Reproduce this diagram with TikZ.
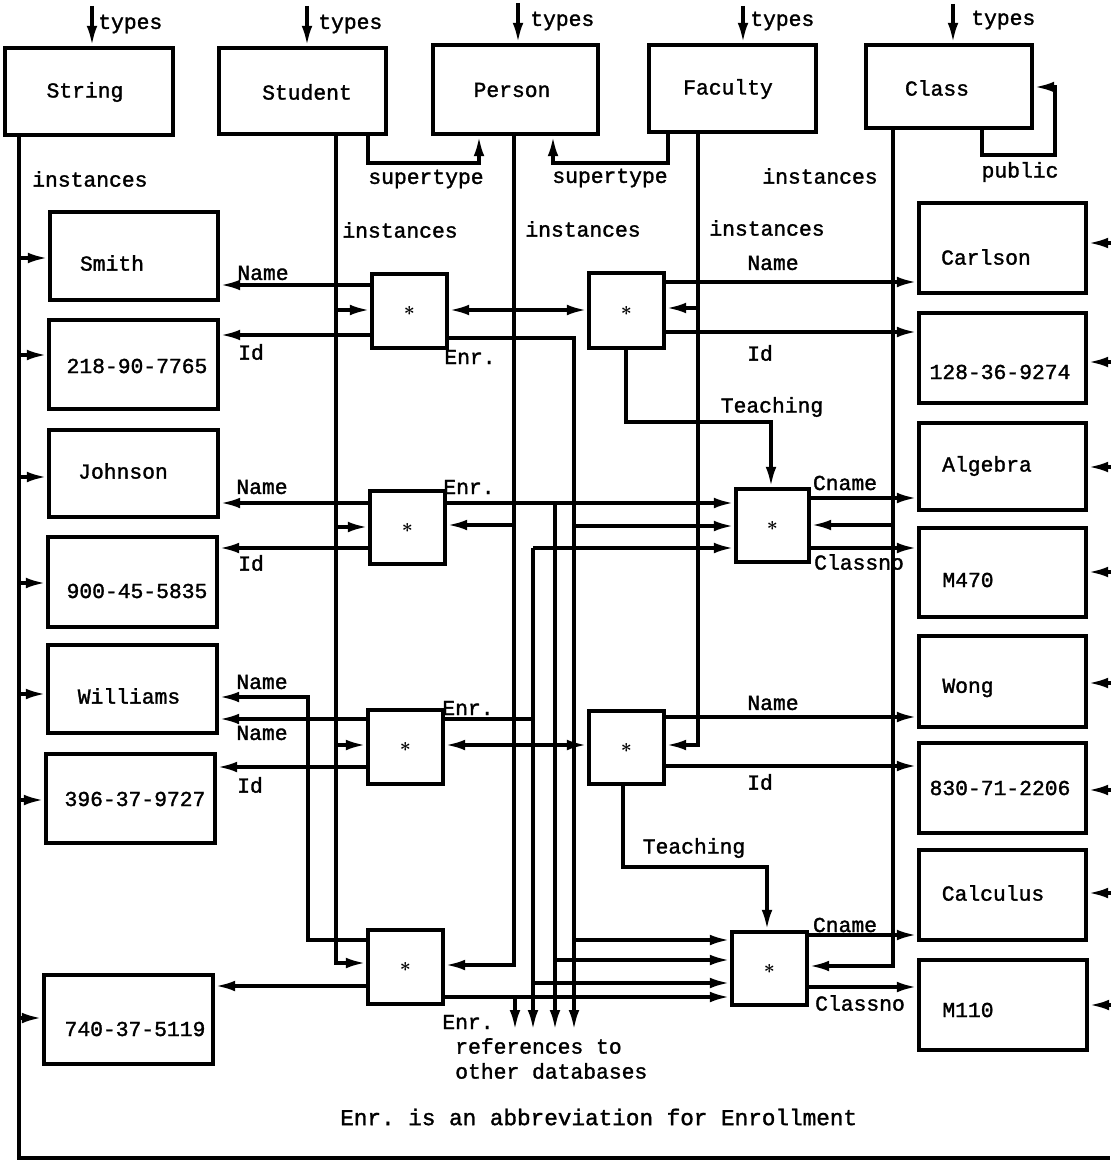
\documentclass[tikz,border=0pt]{standalone}
\usepackage{amsmath}
\usepackage{fontspec}
\setmonofont{Liberation Mono}[FakeBold=1.5]
\usetikzlibrary{arrows.meta}
\begin{document}
\begin{tikzpicture}[x=0.75pt,y=-0.75pt,
  conn/.style={line width=2.6pt},
  arr/.style={conn,-{Latex[length=15pt,width=8pt]}},
  rbox/.style={draw,line width=3.2pt,inner sep=0pt},
  txt/.style={font=\ttfamily\fontsize{16}{19}\selectfont,inner sep=0pt},
  startxt/.style={font=\Large}
]
\newcommand\mkbox[5]{\node[rbox,minimum width={(#4-#2)*0.75pt},minimum height={(#5-#3)*0.75pt}] (#1) at ({(#2+#4)/2},{(#3+#5)/2}) {};}
\newcommand\mkstar[5]{\node[rbox,startxt,minimum width={(#4-#2)*0.75pt},minimum height={(#5-#3)*0.75pt}] (#1) at ({(#2+#4)/2},{(#3+#5)/2}) {$\boldsymbol{\ast}$};}
\newcommand\harr[3]{\draw[arr] (#1 |- 0,#3) -- (#2 |- 0,#3);}
\fill[white] (0,0) rectangle (1110,1166);
\useasboundingbox (0,0) rectangle (1110,1166);

% ---------- type boxes ----------
\mkbox{String}{5}{48}{173}{135}
\mkbox{Student}{219}{48}{386}{134}
\mkbox{Person}{433}{45}{598}{134}
\mkbox{Faculty}{649}{45}{816}{132}
\mkbox{Class}{866}{45}{1032}{128}
\node[txt] (tString) at (85,92) {String};
\node[txt] (tStudent) at (307,92) {Student};
\node[txt] (tPerson) at (512,90) {Person};
\node[txt] (tFaculty) at (728,89) {Faculty};
\node[txt] (tClass) at (937,88) {Class};

% types arrows
\coordinate (ty1) at (92,6);
\coordinate (ty2) at (307,6);
\coordinate (ty3) at (518,3);
\coordinate (ty4) at (743,6);
\coordinate (ty5) at (953,4);
\draw[arr] (ty1) -- (ty1 |- String.north);
\draw[arr] (ty2) -- (ty2 |- Student.north);
\draw[arr] (ty3) -- (ty3 |- Person.north);
\draw[arr] (ty4) -- (ty4 |- Faculty.north);
\draw[arr] (ty5) -- (ty5 |- Class.north);
\node[txt,anchor=west] (lty1) at (98,24) {types};
\node[txt,anchor=west] (lty2) at (318,24) {types};
\node[txt,anchor=west] (lty3) at (530,21) {types};
\node[txt,anchor=west] (lty4) at (750,21) {types};
\node[txt,anchor=west] (lty5) at (971,20) {types};

% supertype and public
\coordinate (sup1) at (479,163);
\coordinate (sup2) at (553,163);
\draw[arr] (Student.south -| 368,0) |- (sup1) -- (sup1 |- Person.south);
\draw[arr] (Faculty.south -| 668,0) |- (sup2) -- (sup2 |- Person.south);
\coordinate (pub) at (1055,155);
\draw[arr] (Class.south -| 982,0) |- (pub) -- (1055,87) -- (Class.east |- 0,87);
\node[txt] (lsup1) at (426,179) {supertype};
\node[txt] (lsup2) at (610,178) {supertype};
\node[txt] (lpub) at (1020,172) {public};

% instances labels
\node[txt,anchor=west] (li1) at (32,179) {instances};
\node[txt] (li2) at (400,230) {instances};
\node[txt] (li3) at (583,229) {instances};
\node[txt] (li4) at (767,228) {instances};
\node[txt] (li5) at (820,176) {instances};

% ---------- string instance boxes (left) ----------
\mkbox{Smith}{50}{212}{218}{300}
\mkbox{Str2}{49}{320}{218}{409}
\mkbox{Johnson}{49}{430}{218}{517}
\mkbox{Str4}{48}{537}{217}{627}
\mkbox{Williams}{48}{645}{217}{733}
\mkbox{Str6}{46}{754}{215}{843}
\mkbox{Str7}{44}{975}{213}{1064}
\node[txt] (tSmith) at (112,263) {Smith};
\node[txt] (tStr2) at (137,366) {218-90-7765};
\node[txt] (tJohnson) at (123,471) {Johnson};
\node[txt] (tStr4) at (137,591) {900-45-5835};
\node[txt] (tWilliams) at (129,696) {Williams};
\node[txt] (tStr6) at (135,799) {396-37-9727};
\node[txt] (tStr7) at (135,1029) {740-37-5119};

% ---------- string instance boxes (right) ----------
\mkbox{Carlson}{919}{203}{1086}{293}
\mkbox{R2}{919}{313}{1086}{403}
\mkbox{Algebra}{919}{423}{1086}{510}
\mkbox{M470}{919}{528}{1086}{617}
\mkbox{Wong}{919}{636}{1086}{727}
\mkbox{R6}{919}{743}{1086}{833}
\mkbox{Calculus}{919}{850}{1086}{940}
\mkbox{M110}{919}{960}{1087}{1050}
\node[txt] (tCarlson) at (986,257) {Carlson};
\node[txt] (tR2) at (1000,372) {128-36-9274};
\node[txt] (tAlgebra) at (987,466) {Algebra};
\node[txt] (tM470) at (968,580) {M470};
\node[txt] (tWong) at (968,688) {Wong};
\node[txt] (tR6) at (1000,788) {830-71-2206};
\node[txt] (tCalculus) at (993,893) {Calculus};
\node[txt] (tM110) at (968,1010) {M110};

% ---------- object boxes ----------
\mkstar{S1}{372}{274}{447}{348}
\mkstar{S2}{370}{491}{445}{564}
\mkstar{S3}{368}{710}{443}{784}
\mkstar{S4}{368}{930}{443}{1004}
\mkstar{F1}{589}{273}{664}{348}
\mkstar{F2}{589}{711}{664}{784}
\mkstar{C1}{736}{489}{809}{562}
\mkstar{C2}{732}{932}{807}{1005}

% ---------- String instances line ----------
\coordinate (sb) at (19,1158);
\coordinate (br) at (1110,1158);
\draw[conn] (String.south -| sb) -- (sb) -- (br);
\harr{sb}{Smith.west}{258}
\harr{sb}{Str2.west}{355}
\harr{sb}{Johnson.west}{477}
\harr{sb}{Str4.west}{583}
\harr{sb}{Williams.west}{694}
\harr{sb}{Str6.west}{800}
\harr{sb}{Str7.west}{1018}
\coordinate (rX) at (1112,0);
\harr{rX}{Carlson.east}{243}
\harr{rX}{R2.east}{362}
\harr{rX}{Algebra.east}{467}
\harr{rX}{M470.east}{572}
\harr{rX}{Wong.east}{683}
\harr{rX}{R6.east}{790}
\harr{rX}{Calculus.east}{893}
\harr{rX}{M110.east}{1005}

% ---------- Student instances ----------
\coordinate (stuL) at (336,963);
\draw[arr] (Student.south -| stuL) -- (stuL) -- (S4.west |- stuL);
\harr{stuL}{S1.west}{310}
\harr{stuL}{S2.west}{527}
\harr{stuL}{S3.west}{745}

% ---------- Person instances ----------
\coordinate (perL) at (514,965);
\draw[arr] (Person.south -| perL) -- (perL) -- (S4.east |- perL);
\harr{perL}{S1.east}{310}
\harr{perL}{F1.west}{310}
\harr{perL}{S2.east}{525}
\harr{perL}{S3.east}{745}
\harr{perL}{F2.west}{745}

% ---------- Faculty instances ----------
\coordinate (facL) at (698,745);
\draw[arr] (Faculty.south -| facL) -- (facL) -- (F2.east |- facL);
\harr{facL}{F1.east}{308}

% ---------- Class instances ----------
\coordinate (clsL) at (893,966);
\draw[arr] (Class.south -| clsL) -- (clsL) -- (C2.east |- clsL);
\harr{clsL}{C1.east}{525}

% ---------- Student attributes ----------
\harr{S1.west}{Smith.east}{285}
\harr{S1.west}{Str2.east}{335}
\harr{S2.west}{Johnson.east}{503}
\harr{S2.west}{Str4.east}{548}
\harr{S3.west}{Williams.east}{719}
\harr{S3.west}{Str6.east}{767}
\coordinate (n4a) at (308,940);
\coordinate (n4b) at (308,697);
\draw[arr] (S4.west |- n4a) -- (n4a) -- (n4b) -- (Williams.east |- n4b);
\harr{S4.west}{Str7.east}{986}
\node[txt] (lN1) at (263,273) {Name};
\node[txt] (lI1) at (251,352) {Id};
\node[txt] (lN2) at (262,487) {Name};
\node[txt] (lI2) at (251,563) {Id};
\node[txt] (lN3) at (262,682) {Name};
\node[txt] (lN4) at (262,733) {Name};
\node[txt] (lI3) at (250,785) {Id};

% ---------- Faculty attributes ----------
\harr{F1.east}{Carlson.west}{282}
\harr{F1.east}{R2.west}{332}
\harr{F2.east}{Wong.west}{717}
\harr{F2.east}{R6.west}{766}
\node[txt] (lFN1) at (773,263) {Name};
\node[txt] (lFI1) at (760,353) {Id};
\node[txt] (lFN2) at (773,703) {Name};
\node[txt] (lFI2) at (760,782) {Id};
\coordinate (tf1) at (626,422);
\coordinate (tc1) at (771,422);
\draw[arr] (F1.south -| tf1) -- (tf1) -- (tc1) -- (tc1 |- C1.north);
\coordinate (tf2) at (623,867);
\coordinate (tc2) at (767,867);
\draw[arr] (F2.south -| tf2) -- (tf2) -- (tc2) -- (tc2 |- C2.north);
\node[txt] (lT1) at (772,407) {Teaching};
\node[txt] (lT2) at (694,848) {Teaching};

% ---------- Class attributes ----------
\harr{C1.east}{Algebra.west}{498}
\harr{C1.east}{M470.west}{548}
\harr{C2.east}{Calculus.west}{935}
\harr{C2.east}{M110.west}{987}
\node[txt] (lC1) at (845,483) {Cname};
\node[txt] (lK1) at (859,562) {Classno};
\node[txt] (lC2) at (845,925) {Cname};
\node[txt] (lK2) at (860,1003) {Classno};

% ---------- Enrollment ----------
\coordinate (e1) at (574,338);
\coordinate (e1b) at (574,1030);
\draw[arr] (S1.east |- e1) -- (e1) -- (e1b);
\harr{e1}{C1.west}{526}
\harr{e1}{C2.west}{940}
\coordinate (e2) at (555,503);
\coordinate (e2b) at (555,1030);
\draw[arr] (S2.east |- e2) -- (C1.west |- e2);
\draw[arr] (e2) -- (e2b);
\harr{e2}{C2.west}{960}
\coordinate (e3) at (533,719);
\coordinate (e3t) at (533,548);
\coordinate (e3b) at (533,1030);
\draw[conn] (S3.east |- e3) -- (e3);
\draw[arr] (e3t) -- (e3b);
\harr{e3}{C1.west}{548}
\harr{e3}{C2.west}{983}
\coordinate (e4) at (515,997);
\coordinate (e4b) at (515,1030);
\draw[arr] (S4.east |- e4) -- (C2.west |- e4);
\draw[arr] (e4) -- (e4b);
\node[txt] (lE1) at (470,357) {Enr.};
\node[txt] (lE2) at (469,487) {Enr.};
\node[txt] (lE3) at (468,708) {Enr.};
\node[txt] (lE4) at (468,1022) {Enr.};

% ---------- notes ----------
\node[txt,anchor=west] (ref1) at (455,1046) {references to};
\node[txt,anchor=west] (ref2) at (455,1071) {other databases};
\node[txt,anchor=west,font=\ttfamily\fontsize{17}{20}\selectfont] (note) at (340,1117) {Enr. is an abbreviation for Enrollment};
\end{tikzpicture}
\end{document}
